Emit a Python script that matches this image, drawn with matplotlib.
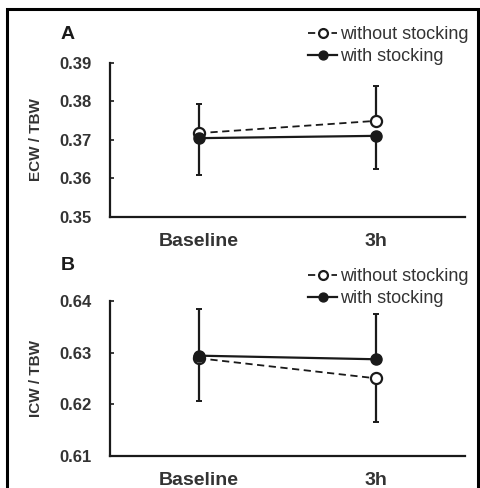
#!/usr/bin/env python
# -*- coding: utf-8 -*-

import matplotlib
matplotlib.use('Agg')
import matplotlib.pyplot as plt
from matplotlib.patches import Rectangle

plt.rcParams['font.family'] = ['Liberation Sans', 'DejaVu Sans']

categories = ['Baseline', '3h']

# panel A: ECW / TBW
ecw_without = [0.3717, 0.3749]
ecw_with = [0.3704, 0.3710]
ecw_without_err = [0.0076, 0.0091]   # drawn upward only
ecw_with_err = [0.0096, 0.0086]      # drawn downward only
ecw_ticks = [0.35, 0.36, 0.37, 0.38, 0.39]

# panel B: ICW / TBW
icw_without = [0.6289, 0.6250]
icw_with = [0.6294, 0.6287]
icw_without_err = [0.0083, 0.0084]   # drawn downward only
icw_with_err = [0.0090, 0.0088]      # drawn upward only
icw_ticks = [0.61, 0.62, 0.63, 0.64]

INK = '#1a1a1a'


#------------------------------------------------------
def draw_panel(ax, letter, letter_y, ylabel, without, with_, err_without,
               err_with, without_up, ticks, fig, leg_top):
    x = list(range(len(categories)))
    zero = [0] * len(x)
    if without_up:
        e_wo = [zero, err_without]
        e_w = [err_with, zero]
    else:
        e_wo = [err_without, zero]
        e_w = [zero, err_with]

    ax.errorbar(x, without, yerr=e_wo, fmt='none', ecolor=INK,
                elinewidth=1.6, capsize=2, capthick=1.4, zorder=2)
    ax.errorbar(x, with_, yerr=e_w, fmt='none', ecolor=INK,
                elinewidth=1.6, capsize=2, capthick=1.4, zorder=2)
    ax.plot(x, without, color=INK, ls=(0, (4, 2.5)), lw=1.3, marker='o',
            ms=8, mfc='white', mec=INK, mew=1.6, zorder=3,
            label='without stocking')
    ax.plot(x, with_, color=INK, ls='-', lw=1.6, marker='o',
            ms=8, mfc=INK, mec=INK, zorder=4, label='with stocking')

    ax.set_xlim(-0.5, 1.5)
    ax.set_ylim(ticks[0], ticks[-1])
    ax.set_yticks(ticks)
    ax.set_yticklabels([f'{t:.2f}' for t in ticks], fontsize=12,
                       fontweight='bold', color='#333333')
    ax.set_xticks(x)
    ax.set_xticklabels(categories, fontsize=14, fontweight='bold',
                       color='#333333')
    ax.tick_params(axis='x', length=0, pad=12)
    ax.tick_params(axis='y', direction='in', length=3, width=1.2, pad=13,
                   color=INK)
    for s in ['top', 'right']:
        ax.spines[s].set_visible(False)
    for s in ['left', 'bottom']:
        ax.spines[s].set_linewidth(1.6)
        ax.spines[s].set_color(INK)

    ax.set_ylabel(ylabel, fontsize=11, fontweight='bold', color='#333333')
    ax.yaxis.set_label_coords(-0.19, 0.5)
    ax.text(-0.14, letter_y, letter, transform=ax.transAxes, fontsize=14,
            fontweight='bold', color=INK, va='center', ha='left')

    handles, labels = ax.get_legend_handles_labels()
    ax.legend(handles, labels, loc='upper right',
              bbox_to_anchor=(0.995, leg_top), bbox_transform=fig.transFigure,
              frameon=False, fontsize=13, handlelength=1.6, markerscale=0.8,
              handletextpad=0.15, labelspacing=0.3, borderpad=0,
              labelcolor='#333333')


fig = plt.figure(figsize=(4.8, 4.88), dpi=100)
axA = fig.add_axes([110 / 480, 1 - 216.7 / 488, 355 / 480, 154 / 488])
axB = fig.add_axes([110 / 480, 1 - 455.7 / 488, 355 / 480, 154.7 / 488])

draw_panel(axA, 'A', 1.186, 'ECW / TBW', ecw_without, ecw_with,
           ecw_without_err, ecw_with_err, True, ecw_ticks, fig, 1 - 17 / 488)
draw_panel(axB, 'B', 1.23, 'ICW / TBW', icw_without, icw_with,
           icw_without_err, icw_with_err, False, icw_ticks, fig,
           1 - 259 / 488)

# frame around the figure
fig.patches.append(Rectangle((7 / 480, -0.05), 471 / 480, 1.05 - 9 / 488,
                             transform=fig.transFigure, fill=False,
                             lw=2.2, edgecolor='black'))

plt.savefig('out.png', dpi=100)
